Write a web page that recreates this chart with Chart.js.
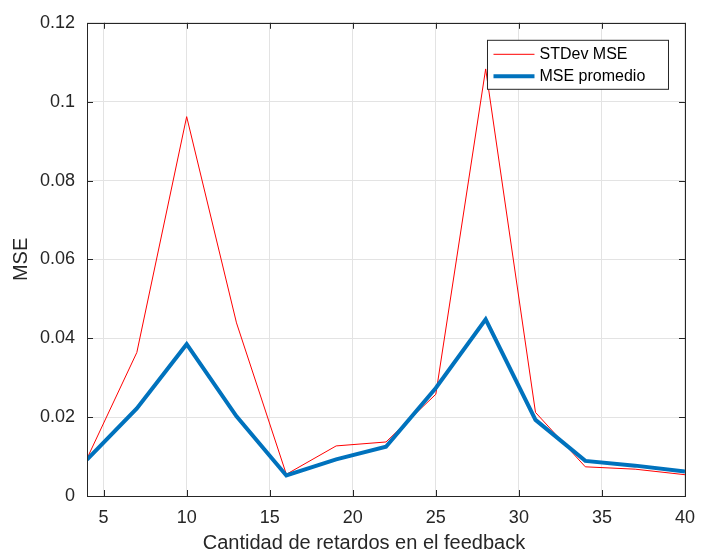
<!DOCTYPE html>
<html>
<head>
<meta charset="utf-8">
<script src="https://cdn.jsdelivr.net/npm/chart.js@4.4.0/dist/chart.umd.min.js"></script>
<style>
  html, body { margin: 0; padding: 0; background: #fff; }
  #chart { display: block; }
</style>
</head>
<body>
<canvas id="chart" width="706" height="554"></canvas>
<script>
const retardos = [4, 7, 10, 13, 16, 19, 22, 25, 28, 31, 34, 37, 40];
const stdevMse = [0.0095, 0.0364, 0.0962, 0.0439, 0.0055, 0.0127, 0.0137, 0.0258, 0.1083, 0.0212, 0.0074, 0.0068, 0.0054];
const msePromedio = [0.0092, 0.0222, 0.0385, 0.0202, 0.0052, 0.0093, 0.0125, 0.0274, 0.0448, 0.0193, 0.0089, 0.0077, 0.0062];
const seriesNames = ["STDev MSE", "MSE promedio"];
const xTicks = [5, 10, 15, 20, 25, 30, 35, 40];
const yTicks = [0, 0.02, 0.04, 0.06, 0.08, 0.1, 0.12];
const yTickLabels = ["0", "0.02", "0.04", "0.06", "0.08", "0.1", "0.12"];
const xTitle = "Cantidad de retardos en el feedback";
const yTitle = "MSE";

const AXIS = "#262626";
const FONT = "'Liberation Sans', Arial, Helvetica, sans-serif";

function toPoints(ys) {
  return retardos.map((x, i) => ({ x: x, y: ys[i] }));
}

// box, inward ticks, titles and legend drawn the MATLAB way
const matlabAxes = {
  id: "matlabAxes",
  afterDatasetsDraw(chart) {
    const { ctx, chartArea: a, scales } = chart;
    const tl = 6;
    ctx.save();
    ctx.strokeStyle = AXIS;
    ctx.lineWidth = 1;
    ctx.strokeRect(Math.round(a.left) + 0.5, Math.round(a.top) + 0.5,
      Math.round(a.right - a.left), Math.round(a.bottom - a.top));
    ctx.beginPath();
    xTicks.forEach((v) => {
      const px = Math.round(scales.x.getPixelForValue(v)) + 0.5;
      ctx.moveTo(px, a.bottom); ctx.lineTo(px, a.bottom - tl);
      ctx.moveTo(px, a.top); ctx.lineTo(px, a.top + tl);
    });
    yTicks.forEach((v) => {
      const py = Math.round(scales.y.getPixelForValue(v)) + 0.5;
      ctx.moveTo(a.left, py); ctx.lineTo(a.left + tl, py);
      ctx.moveTo(a.right, py); ctx.lineTo(a.right - tl, py);
    });
    ctx.stroke();

    // axis titles
    ctx.fillStyle = AXIS;
    ctx.font = "20px " + FONT;
    ctx.textAlign = "center";
    ctx.textBaseline = "middle";
    ctx.fillText(xTitle, 364, 543);
    ctx.save();
    ctx.translate(21, (a.top + a.bottom) / 2);
    ctx.rotate(-Math.PI / 2);
    ctx.fillText(yTitle, 0, 0);
    ctx.restore();

    // legend
    const lx = a.right - 197.5, ly = a.top + 17.5, lw = 181, lh = 49;
    ctx.fillStyle = "#fff";
    ctx.fillRect(lx, ly, lw, lh);
    ctx.strokeStyle = AXIS;
    ctx.lineWidth = 1;
    ctx.strokeRect(lx, ly, lw, lh);
    ctx.font = "16px " + FONT;
    ctx.textAlign = "left";
    ctx.textBaseline = "middle";
    chart.data.datasets.forEach((ds, i) => {
      const ry = ly + 14 + i * 22;
      ctx.strokeStyle = ds.borderColor;
      ctx.lineWidth = ds.borderWidth;
      ctx.beginPath();
      ctx.moveTo(lx + 6, ry);
      ctx.lineTo(lx + 47, ry);
      ctx.stroke();
      ctx.fillStyle = "#000";
      ctx.fillText(ds.label, lx + 52, ry);
    });
    ctx.restore();
  }
};

new Chart(document.getElementById("chart"), {
  type: "line",
  data: {
    datasets: [
      {
        label: seriesNames[0],
        data: toPoints(stdevMse),
        borderColor: "#ff0000",
        borderWidth: 1,
        pointRadius: 0,
        tension: 0,
        order: 1,
      },
      {
        label: seriesNames[1],
        data: toPoints(msePromedio),
        borderColor: "#0072bd",
        borderWidth: 4,
        pointRadius: 0,
        tension: 0,
        order: 0,
      },
    ],
  },
  options: {
    responsive: false,
    animation: false,
    events: [],
    layout: { padding: { left: 0, right: 11, top: 16, bottom: 0 } },
    plugins: { legend: { display: false }, tooltip: { enabled: false } },
    scales: {
      x: {
        type: "linear",
        min: 4,
        max: 40,
        afterBuildTicks: (s) => { s.ticks = xTicks.map((v) => ({ value: v })); },
        afterFit: (s) => { s.height = 58; },
        grid: { color: "#e3e3e3", drawTicks: false },
        border: { display: false },
        ticks: {
          color: AXIS,
          padding: 11,
          maxRotation: 0,
          font: { family: FONT, size: 18 },
        },
      },
      y: {
        min: 0,
        max: 0.12,
        afterBuildTicks: (s) => { s.ticks = yTicks.map((v) => ({ value: v })); },
        afterFit: (s) => { s.width = 87; },
        grid: { color: "#e3e3e3", drawTicks: false },
        border: { display: false },
        ticks: {
          color: AXIS,
          padding: 12,
          font: { family: FONT, size: 18 },
          callback: (v, i) => yTickLabels[i],
        },
      },
    },
  },
  plugins: [matlabAxes],
});
</script>
</body>
</html>
